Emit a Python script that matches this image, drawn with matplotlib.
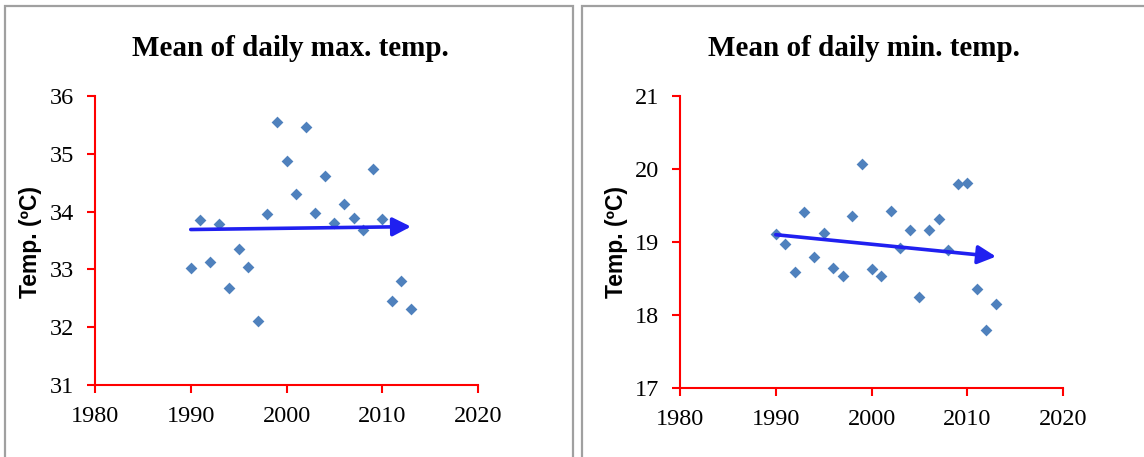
import numpy as np
import matplotlib
matplotlib.use('Agg')
import matplotlib.pyplot as plt
from matplotlib.patches import Rectangle

# Data
years = [1990, 1991, 1992, 1993, 1994, 1995, 1996, 1997, 1998, 1999, 2000, 2001,
         2002, 2003, 2004, 2005, 2006, 2007, 2008, 2009, 2010, 2011, 2012, 2013]
max_temp = [33.03, 33.85, 33.13, 33.79, 32.68, 33.36, 33.04, 32.10, 33.95, 35.55, 34.87, 34.31,
            35.47, 33.97, 34.62, 33.80, 34.14, 33.89, 33.69, 34.73, 33.88, 32.45, 32.80, 32.32]
min_temp = [19.11, 18.97, 18.59, 19.41, 18.79, 19.13, 18.64, 18.53, 19.35, 20.07, 18.63, 18.53,
            19.43, 18.92, 19.17, 18.25, 19.17, 19.32, 18.89, 19.79, 19.81, 18.35, 17.80, 18.15]

# trend arrows (start year / end year and values)
trend_years = [1990, 2013]
trend_max = [33.69, 33.74]
trend_min = [19.10, 18.80]

titles = ['Mean of daily max. temp.', 'Mean of daily min. temp.']
ylabel = 'Temp. (\u00baC)'
x_ticks = [1980, 1990, 2000, 2010, 2020]
y_ticks_max = [31, 32, 33, 34, 35, 36]
y_ticks_min = [17, 18, 19, 20, 21]

W, H = 1144, 457
fig = plt.figure(figsize=(W / 100, H / 100), dpi=100)

# panel frames (gray boxes round each chart)
for x0, x1 in [(5, 573), (582, 1150)]:
    fig.patches.append(Rectangle((x0 / W, -0.05), (x1 - x0) / W, 1.05 - 6 / H,
                                 transform=fig.transFigure, fill=False,
                                 edgecolor='#A0A0A0', linewidth=1.6))

panels = [
    ([95 / W, 1 - 385 / H, 383 / W, 289 / H], max_temp, trend_max, y_ticks_max, titles[0], 290, 31),
    ([680 / W, 1 - 388 / H, 383 / W, 292 / H], min_temp, trend_min, y_ticks_min, titles[1], 864, 616),
]

for rect, vals, trend, yticks, title, tx, lx in panels:
    ax = fig.add_axes(rect)
    ax.scatter(years, vals, marker='D', s=36, color='#4F81BD', zorder=3, linewidths=0)
    ax.annotate('', xy=(trend_years[1], trend[1]), xytext=(trend_years[0], trend[0]),
                arrowprops=dict(arrowstyle='-|>,head_length=0.55,head_width=0.28',
                                color='#2020F0', lw=2.6, mutation_scale=20,
                                shrinkA=0, shrinkB=0), zorder=4)
    ax.set_xlim(x_ticks[0], x_ticks[-1])
    ax.set_ylim(yticks[0], yticks[-1])
    ax.set_xticks(x_ticks)
    ax.set_yticks(yticks)
    for s in ['top', 'right']:
        ax.spines[s].set_visible(False)
    for s in ['left', 'bottom']:
        ax.spines[s].set_color('#FF0000')
        ax.spines[s].set_linewidth(1.5)
    ax.tick_params(colors='#FF0000', width=1.5, length=6, labelcolor='black',
                   labelsize=17.5, pad=9)
    for lab in ax.get_xticklabels() + ax.get_yticklabels():
        lab.set_family('Liberation Serif')
    fig.text(tx / W, 1 - 49 / H, title, ha='center', va='center',
             family='Liberation Serif', fontweight='bold', fontsize=21)
    fig.text(lx / W, 1 - 242 / H, ylabel, ha='center', va='center', rotation=90,
             family='Liberation Sans', fontweight='bold', fontsize=16.5)

fig.savefig('out.png', dpi=100)
